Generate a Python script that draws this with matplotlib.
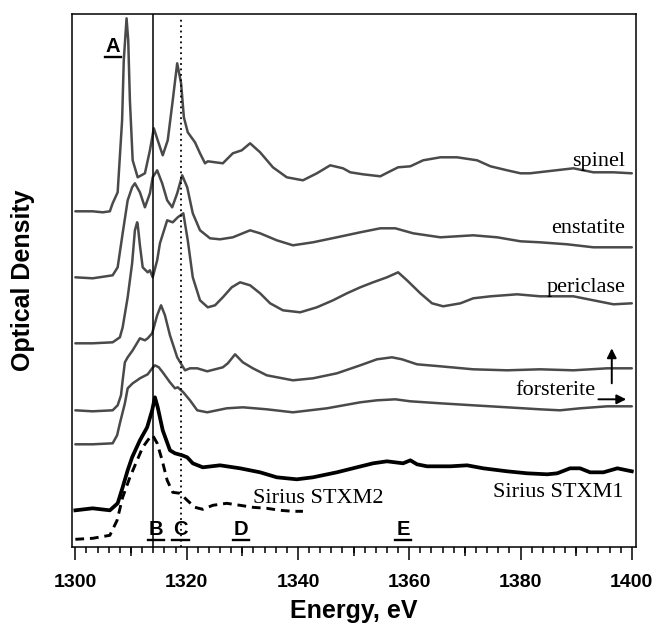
import matplotlib
matplotlib.use("Agg")
import matplotlib.pyplot as plt
from matplotlib.ticker import MultipleLocator
from matplotlib.lines import Line2D

# ---------------- data (energy in eV, optical density offset, arbitrary units) -------------
spinel_E = [1300, 1303.1, 1304.9, 1306.2, 1306.7, 1307.6, 1308.4, 1308.7, 1309.2, 1309.5, 1309.8,
            1310.3, 1311.2, 1312.5, 1313.4, 1314.1, 1314.8, 1315.7, 1316.6, 1317.5, 1318.3, 1319.0,
            1319.5, 1320.2, 1321.5, 1322.4, 1323.3, 1323.8, 1326.5, 1328.3, 1329.9, 1331.4, 1333.2,
            1335.5, 1338.0, 1340.9, 1343.4, 1345.8, 1348.1, 1349.4, 1351.7, 1354.8, 1356.2, 1358.0,
            1360.2, 1362.5, 1365.6, 1368.6, 1372.2, 1374.6, 1377.6, 1380.0, 1381.7, 1384.8, 1389.5,
            1393.1, 1396.7, 1400]
spinel_OD = [3.36, 3.36, 3.35, 3.36, 3.44, 3.55, 4.27, 4.87, 5.29, 5.07, 4.47,
             3.87, 3.70, 3.74, 3.97, 4.19, 4.07, 3.92, 4.07, 4.47, 4.84, 4.64,
             4.30, 4.15, 4.05, 3.94, 3.84, 3.86, 3.84, 3.94, 3.97, 4.04, 3.95,
             3.80, 3.70, 3.67, 3.74, 3.82, 3.79, 3.75, 3.73, 3.71, 3.75, 3.80,
             3.81, 3.87, 3.90, 3.90, 3.87, 3.81, 3.77, 3.74, 3.74, 3.76, 3.79,
             3.75, 3.75, 3.74]

enstatite_E = [1300, 1303.1, 1306.7, 1307.6, 1308.5, 1309.4, 1310.2, 1310.7, 1311.6, 1312.5, 1313.4,
               1313.9, 1314.7, 1315.6, 1316.5, 1317.4, 1318.3, 1319.2, 1320.1, 1321.1, 1322.4, 1324.2,
               1326.0, 1328.3, 1331.4, 1333.2, 1336.2, 1339.1, 1342.7, 1347.0, 1351.2, 1354.8, 1357.5,
               1360.7, 1365.6, 1371.5, 1375.8, 1380.0, 1383.5, 1388.4, 1393.1, 1400]
enstatite_OD = [2.70, 2.69, 2.72, 2.80, 3.14, 3.47, 3.60, 3.64, 3.55, 3.40, 3.54,
                3.70, 3.77, 3.64, 3.47, 3.40, 3.54, 3.72, 3.60, 3.34, 3.17, 3.09,
                3.08, 3.10, 3.17, 3.14, 3.07, 3.02, 3.05, 3.10, 3.15, 3.19, 3.19,
                3.14, 3.10, 3.12, 3.10, 3.06, 3.05, 3.03, 3.00, 3.00]

periclase_E = [1300, 1303.1, 1306.7, 1308.0, 1308.5, 1309.4, 1310.2, 1310.7, 1311.1, 1311.2, 1311.6,
               1312.1, 1313.0, 1313.4, 1313.9, 1314.7, 1315.2, 1316.5, 1317.5, 1318.4, 1319.4, 1320.2,
               1321.1, 1322.4, 1323.8, 1325.1, 1326.5, 1328.1, 1329.6, 1331.4, 1333.2, 1335.0, 1337.3,
               1340.4, 1343.4, 1346.3, 1348.8, 1351.2, 1353.5, 1356.0, 1358.0, 1359.6, 1362.0, 1364.1,
               1366.1, 1369.2, 1371.5, 1374.6, 1379.4, 1383.5, 1389.5, 1393.1, 1396.7, 1400]
periclase_OD = [2.04, 2.04, 2.05, 2.10, 2.20, 2.50, 2.84, 3.17, 3.25, 3.23, 3.02,
                2.80, 2.75, 2.77, 2.70, 2.87, 3.04, 3.27, 3.25, 3.30, 3.34, 3.07,
                2.70, 2.47, 2.40, 2.42, 2.50, 2.60, 2.65, 2.62, 2.54, 2.44, 2.37,
                2.35, 2.40, 2.47, 2.54, 2.60, 2.65, 2.70, 2.75, 2.67, 2.54, 2.44,
                2.41, 2.44, 2.49, 2.51, 2.53, 2.51, 2.51, 2.47, 2.43, 2.44]

forsterite1_E = [1300, 1303.1, 1306.7, 1307.6, 1308.2, 1308.5, 1308.9, 1309.4, 1310.3, 1311.6, 1312.5,
                 1313.0, 1313.8, 1314.7, 1315.4, 1316.1, 1317.0, 1318.3, 1319.7, 1320.6, 1321.9, 1323.7,
                 1326.5, 1327.4, 1328.7, 1330.1, 1331.9, 1334.4, 1339.1, 1342.7, 1347.0, 1351.2, 1354.2,
                 1356.9, 1358.7, 1361.4, 1365.6, 1371.5, 1377.6, 1383.5, 1389.5, 1395.6, 1400]
forsterite1_OD = [1.37, 1.36, 1.37, 1.42, 1.52, 1.67, 1.85, 1.90, 1.97, 2.09, 2.07,
                  2.09, 2.14, 2.32, 2.42, 2.32, 2.12, 1.90, 1.77, 1.79, 1.79, 1.76,
                  1.80, 1.84, 1.93, 1.85, 1.79, 1.72, 1.67, 1.69, 1.74, 1.82, 1.88,
                  1.90, 1.88, 1.83, 1.81, 1.78, 1.77, 1.78, 1.77, 1.79, 1.79]

forsterite2_E = [1300, 1303.1, 1306.7, 1307.5, 1308.0, 1308.9, 1309.4, 1310.3, 1311.1, 1311.6, 1313.0,
                 1313.8, 1314.3, 1315.0, 1315.7, 1317.0, 1317.9, 1318.4, 1319.4, 1320.6, 1321.9, 1323.7,
                 1327.2, 1330.1, 1334.4, 1339.1, 1345.2, 1351.2, 1354.2, 1357.5, 1360.2, 1365.6, 1371.5,
                 1377.6, 1383.5, 1387.1, 1390.7, 1395.6, 1400]
forsterite2_OD = [1.03, 1.03, 1.04, 1.12, 1.24, 1.44, 1.59, 1.64, 1.67, 1.69, 1.73,
                  1.79, 1.82, 1.80, 1.75, 1.65, 1.59, 1.60, 1.55, 1.47, 1.37, 1.35,
                  1.39, 1.40, 1.38, 1.35, 1.39, 1.45, 1.47, 1.48, 1.46, 1.44, 1.42,
                  1.40, 1.38, 1.37, 1.39, 1.41, 1.41]

stxm1_E = [1300, 1303.1, 1306.2, 1307.6, 1308.5, 1309.4, 1310.2, 1311.6, 1312.9, 1313.8, 1314.3,
           1314.8, 1315.7, 1317.0, 1317.9, 1319.2, 1320.1, 1321.1, 1322.9, 1326.0, 1329.6, 1333.2,
           1336.2, 1339.8, 1342.7, 1347.0, 1350.6, 1353.5, 1356.0, 1358.9, 1360.2, 1361.4, 1363.2,
           1367.4, 1370.4, 1373.3, 1377.6, 1381.2, 1384.8, 1386.6, 1388.9, 1390.7, 1392.5, 1394.9,
           1397.4, 1400]
stxm1_OD = [0.37, 0.39, 0.37, 0.44, 0.60, 0.77, 0.90, 1.07, 1.20, 1.37, 1.50,
            1.40, 1.17, 0.97, 0.94, 0.92, 0.90, 0.84, 0.80, 0.82, 0.79, 0.75,
            0.70, 0.68, 0.70, 0.75, 0.80, 0.84, 0.86, 0.84, 0.87, 0.83, 0.81,
            0.81, 0.82, 0.79, 0.76, 0.74, 0.73, 0.74, 0.79, 0.79, 0.75, 0.75,
            0.79, 0.76]

stxm2_E = [1300, 1303.1, 1306.2, 1307.5, 1308.5, 1309.8, 1311.1, 1312.1, 1313.4, 1313.9, 1314.7,
           1315.6, 1316.5, 1317.5, 1318.8, 1320.1, 1321.5, 1322.9, 1324.7, 1327.2, 1329.6, 1331.9,
           1334.4, 1336.8, 1339.1, 1340.9]
stxm2_OD = [0.08, 0.09, 0.12, 0.27, 0.50, 0.70, 0.87, 1.00, 1.10, 1.12, 1.04,
            0.87, 0.67, 0.55, 0.54, 0.47, 0.40, 0.38, 0.42, 0.44, 0.42, 0.40,
            0.39, 0.37, 0.36, 0.36]

line_B = 1314.0
line_C = 1319.0
peak_letters = ['A', 'B', 'C', 'D', 'E']
peak_letter_E = [1306.8, 1314.5, 1318.9, 1329.8, 1358.9]

# ---------------- figure ----------------
fig = plt.figure(figsize=(6.53, 6.25), dpi=100)
ax = fig.add_axes([0.1103, 0.1243, 0.8632, 0.8533])

gray = '#4a4a4a'
kw = dict(color=gray, lw=1.8, solid_joinstyle='round', solid_capstyle='round')
ax.plot(spinel_E, spinel_OD, **kw)
ax.plot(enstatite_E, enstatite_OD, **kw)
ax.plot(periclase_E, periclase_OD, **kw)
ax.plot(forsterite1_E, forsterite1_OD, **kw)
ax.plot(forsterite2_E, forsterite2_OD, **kw)
ax.plot(stxm1_E, stxm1_OD, color='black', lw=2.7, solid_joinstyle='round')
ax.plot(stxm2_E, stxm2_OD, color='black', lw=2.1, dashes=(3, 2))

ax.axvline(line_B, color='black', lw=1.1)
ax.axvline(line_C, color='black', lw=1.3, ls=(0, (1, 2)), ymax=0.99)

ax.set_xlim(1299.4, 1400.7)
ax.set_ylim(0, 5.333)

ax.xaxis.set_major_locator(MultipleLocator(20))
ax.xaxis.set_minor_locator(MultipleLocator(2))
ax.tick_params(axis='x', which='major', direction='out', length=9.5, width=1.1, pad=10,
               labelsize=14)
ax.tick_params(axis='x', which='minor', direction='out', length=4.5, width=1.1)
ax.set_yticks([])
for lab in ax.get_xticklabels():
    lab.set_fontfamily('Liberation Sans')
    lab.set_fontweight('bold')
for sp in ax.spines.values():
    sp.set_linewidth(1.1)

# medium ticks at the odd tens
sec = ax.secondary_xaxis('bottom')
sec.set_xticks([1310, 1330, 1350, 1370, 1390])
sec.tick_params(axis='x', which='major', direction='out', length=6.5, width=1.1, labelbottom=False)
sec.xaxis.set_minor_locator(matplotlib.ticker.NullLocator())
sec.spines['bottom'].set_visible(False)

ax.set_xlabel('Energy, eV', fontsize=18, fontweight='bold', family='Liberation Sans')
ax.set_ylabel('Optical Density', fontsize=18, fontweight='bold', family='Liberation Sans')
ax.xaxis.set_label_coords(0.5, -0.097)
ax.yaxis.set_label_coords(-0.066, 0.5)

# peak letters (bold, underlined)
letter_y = [4.95] + [0.12] * 4
letter_texts = []
for t, e, y in zip(peak_letters, peak_letter_E, letter_y):
    letter_texts.append(ax.text(e, y, t, ha='center', va='baseline', fontsize=14.5,
                                fontweight='bold', family='Liberation Sans'))

serif = dict(family='Liberation Serif', fontsize=16)
ax.text(1398.8, 3.81, 'spinel', ha='right', va='baseline', **serif)
ax.text(1398.8, 3.14, 'enstatite', ha='right', va='baseline', **serif)
ax.text(1398.8, 2.55, 'periclase', ha='right', va='baseline', **serif)
ax.text(1393.4, 1.52, 'forsterite', ha='right', va='baseline', **serif)
ax.text(1398.5, 0.50, 'Sirius STXM1', ha='right', va='baseline', **serif)
ax.text(1331.9, 0.44, 'Sirius STXM2', ha='left', va='baseline', **serif)

arrow = dict(arrowstyle='-|>', color='black', lw=1.4, mutation_scale=14, shrinkA=0, shrinkB=0)
ax.annotate('', xy=(1396.4, 1.99), xytext=(1396.4, 1.64), arrowprops=arrow)
ax.annotate('', xy=(1399.0, 1.48), xytext=(1394.0, 1.48), arrowprops=arrow)

# underline the peak letters (derived from the rendered text extents)
fig.canvas.draw()
renderer = fig.canvas.get_renderer()
for t in letter_texts:
    bb = t.get_window_extent(renderer)
    bx, by = ax.transData.transform(t.get_position())
    fig.add_artist(Line2D([bb.x0 - 1, bb.x1 + 1], [by - 4.5, by - 4.5], transform=None,
                          color='black', lw=1.7))

fig.savefig('out.png', dpi=100)
